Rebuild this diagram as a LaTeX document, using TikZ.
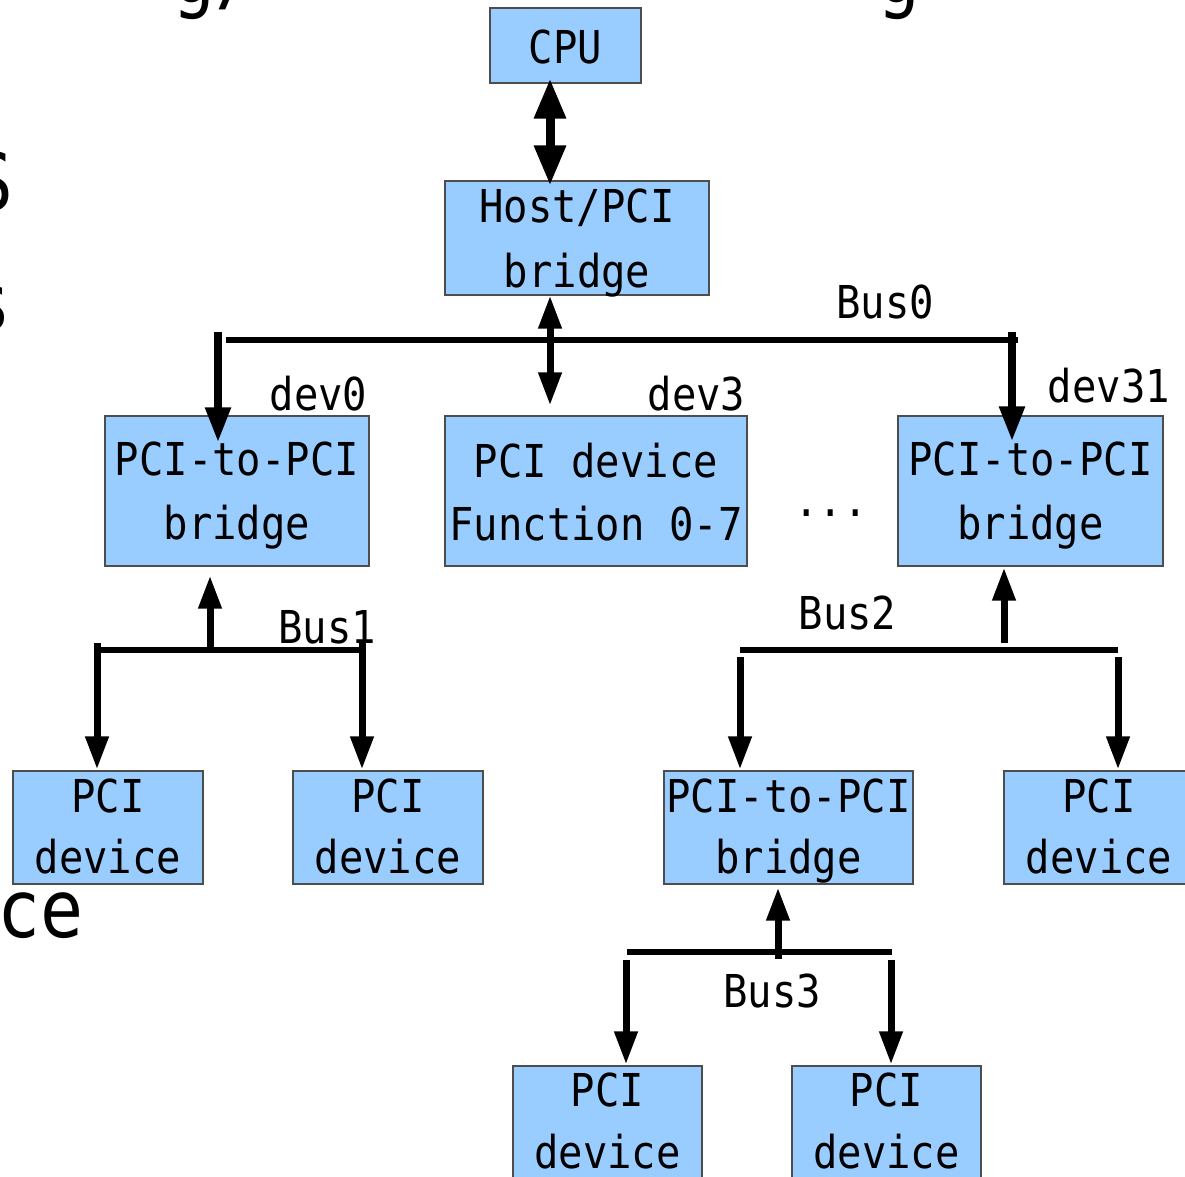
\documentclass[tikz,border=0pt]{standalone}
\usepackage{fontspec}
\usetikzlibrary{arrows.meta,calc}
\newfontfamily\diagfont[FakeStretch=0.895]{DejaVu Sans Mono}
\definecolor{boxfill}{HTML}{99CCFF}
\definecolor{boxline}{HTML}{4D4D4D}

\begin{document}
\begin{tikzpicture}[x=1pt,y=-1pt,
  box/.style n args={2}{draw=boxline, line width=1.1pt, fill=boxfill,
    inner sep=0pt, minimum width=#1pt, minimum height=#2pt},
  txt/.style={font=\diagfont\fontsize{45.3}{54}\selectfont, inner sep=0pt, anchor=base},
  bigtxt/.style={font=\diagfont\fontsize{80}{90}\selectfont, inner sep=0pt},
  bus/.style={line width=6.5pt},
  conn/.style={line width=7pt, -{Triangle[length=33pt,width=22pt]}},
  dconn/.style={line width=7pt, {Triangle[length=33pt,width=22pt]}-{Triangle[length=33pt,width=22pt]}},
  bigdconn/.style={line width=9pt, {Triangle[length=40pt,width=30pt]}-{Triangle[length=40pt,width=30pt]}}]

\useasboundingbox (0,0) rectangle (1185,1176);
\clip (0,0) rectangle (1185,1176);
\fill[white] (0,0) rectangle (1185,1176);

% slide text behind the diagram
\node[bigtxt, anchor=base west] (bgA) at (172,2) {g/};
\node[bigtxt, anchor=base west] (bgB) at (877,2) {g};
\node[bigtxt, anchor=base east] (bgC) at (14,210) {S};
\node[bigtxt, anchor=base east] (bgD) at (12,330) {s};
\node[bigtxt, anchor=base east] (bgE) at (84,937) {ce};

% boxes
\node[box={151}{75}]  (cpu)  at (565.5,45.5) {};
\node[box={264}{114}] (host) at (577,238) {};
\node[box={264}{150}] (brL)  at (237,491) {};
\node[box={302}{150}] (fn)   at (596,491) {};
\node[box={265}{150}] (brR)  at (1030.5,491) {};
\node[box={190}{113}] (pd1)  at (108,827.5) {};
\node[box={190}{113}] (pd2)  at (388,827.5) {};
\node[box={249}{113}] (brM)  at (788.5,827.5) {};
\node[box={190}{113}] (pd3)  at (1099,827.5) {};
\node[box={189}{113}] (pd4)  at (607.5,1122.5) {};
\node[box={189}{113}] (pd5)  at (886.5,1122.5) {};

% box texts
\node[txt] (cpu-a) at (565.5,63) {CPU};
\node[txt] (host-a) at (577,222) {Host/PCI};
\node[txt] (host-b) at (577,287) {bridge};
\node[txt] (brL-a) at (237,475) {PCI-to-PCI};
\node[txt] (brL-b) at (237,539) {bridge};
\node[txt] (fn-a) at (596,477) {PCI device};
\node[txt] (fn-b) at (596,540) {Function 0-7};
\node[txt] (brR-a) at (1030.5,475) {PCI-to-PCI};
\node[txt] (brR-b) at (1030.5,539) {bridge};
\node[txt] (pd1-a) at (108,812) {PCI};
\node[txt] (pd1-b) at (108,873) {device};
\node[txt] (pd2-a) at (388,812) {PCI};
\node[txt] (pd2-b) at (388,873) {device};
\node[txt] (brM-a) at (788.5,812) {PCI-to-PCI};
\node[txt] (brM-b) at (788.5,873) {bridge};
\node[txt] (pd3-a) at (1099,812) {PCI};
\node[txt] (pd3-b) at (1099,873) {device};
\node[txt] (pd4-a) at (607.5,1106) {PCI};
\node[txt] (pd4-b) at (607.5,1168) {device};
\node[txt] (pd5-a) at (886.5,1106) {PCI};
\node[txt] (pd5-b) at (886.5,1168) {device};

% bus and device labels
\node[txt] (lbus0) at (885,318) {Bus0};
\node[txt] (ldev0) at (318.5,410) {dev0};
\node[txt] (ldev3) at (696.5,410) {dev3};
\node[txt] (ldev31) at (1109,402) {dev31};
\node[txt] (lbus1) at (327,643) {Bus1};
\node[txt] (lbus2) at (847.5,629) {Bus2};
\node[txt] (lbus3) at (772,1007) {Bus3};
\node[txt] (ldots) at (831,516) {...};

% bus taps
\coordinate (b0a) at (226,340);
\coordinate (b0b) at (1018,340);
\coordinate (b0L) at (218,332);
\coordinate (b0R) at (1012,332);
\coordinate (hx)  at (550,0);

\coordinate (b1a) at (95,650);
\coordinate (b1b) at (366,650);
\coordinate (b1L) at (97,643);
\coordinate (b1R) at (362,643);
\coordinate (b1U) at (210,650);

\coordinate (b2a) at (740,650);
\coordinate (b2b) at (1118,650);
\coordinate (b2L) at (740,657);
\coordinate (b2R) at (1118,657);
\coordinate (b2U) at (1004,643);

\coordinate (b3a) at (627,952);
\coordinate (b3b) at (892,952);
\coordinate (b3L) at (626,960);
\coordinate (b3R) at (891,960);
\coordinate (b3U) at (778,959);

% CPU <-> host bridge
\draw[bigdconn] ($(cpu.south -| hx)+(0,-5)$) -- ($(host.north -| hx)+(0,5)$);

% Bus0
\draw[bus] (b0a) -- (b0b);
\draw[dconn] (host.south -| hx) -- ($(fn.north -| hx)+(0,-10)$);
\draw[conn, line width=8pt, -{Triangle[length=35pt,width=24pt]}] (b0L) -- ($(brL.north -| b0L)+(0,27)$);
\draw[conn, line width=8pt, -{Triangle[length=35pt,width=24pt]}] (b0R) -- ($(brR.north -| b0R)+(0,26)$);

% Bus1
\draw[bus] (b1a) -- (b1b);
\draw[conn] (b1U) -- ($(brL.south -| b1U)+(0,9)$);
\draw[conn] (b1L) -- ($(pd1.north -| b1L)+(0,-1)$);
\draw[conn] (b1R) -- ($(pd2.north -| b1R)+(0,-1)$);

% Bus2
\draw[bus] (b2a) -- (b2b);
\draw[conn] (b2U) -- ($(brR.south -| b2U)+(0,1)$);
\draw[conn] (b2L) -- ($(brM.north -| b2L)+(0,-1)$);
\draw[conn] (b2R) -- ($(pd3.north -| b2R)+(0,-1)$);

% Bus3
\draw[bus] (b3a) -- (b3b);
\draw[conn] (b3U) -- ($(brM.south -| b3U)+(0,3)$);
\draw[conn] (b3L) -- ($(pd4.north -| b3L)+(0,-1)$);
\draw[conn] (b3R) -- ($(pd5.north -| b3R)+(0,-1)$);

\end{tikzpicture}
\end{document}
